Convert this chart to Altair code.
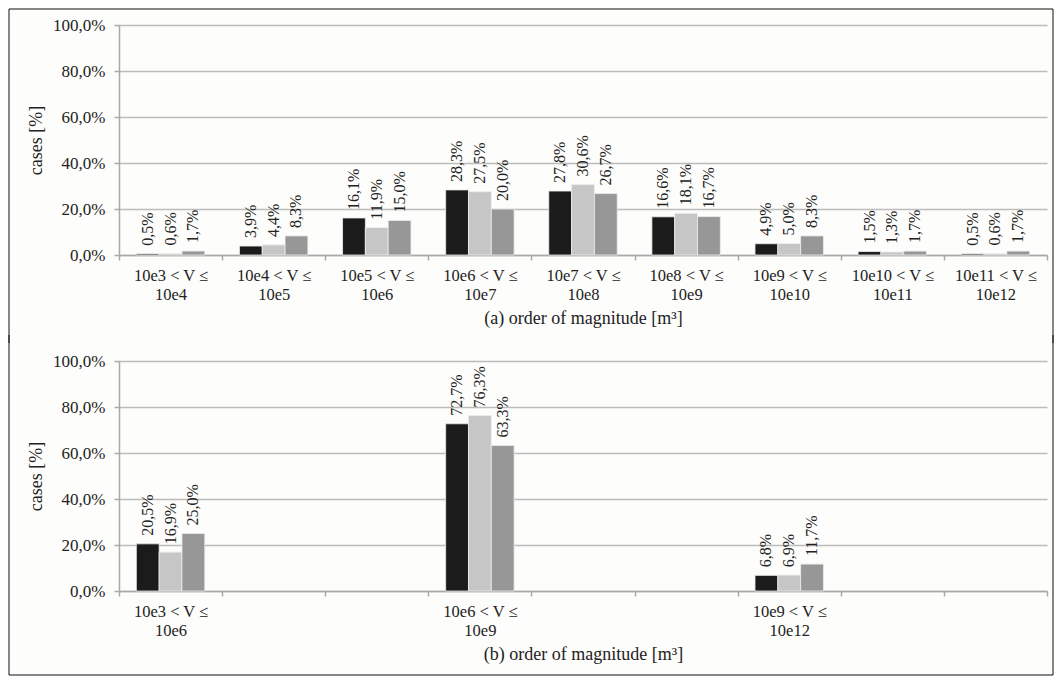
import altair as alt
import pandas as pd

# ---------------- data ----------------
series = ["Series 1", "Series 2", "Series 3"]
series_colors = ["#1b1b1b", "#c6c6c6", "#979797"]

top_categories = [
    "10e3 < V ≤|10e4", "10e4 < V ≤|10e5", "10e5 < V ≤|10e6",
    "10e6 < V ≤|10e7", "10e7 < V ≤|10e8", "10e8 < V ≤|10e9",
    "10e9 < V ≤|10e10", "10e10 < V ≤|10e11", "10e11 < V ≤|10e12",
]
top_s1 = [0.5, 3.9, 16.1, 28.3, 27.8, 16.6, 4.9, 1.5, 0.5]
top_s2 = [0.6, 4.4, 11.9, 27.5, 30.6, 18.1, 5.0, 1.3, 0.6]
top_s3 = [1.7, 8.3, 15.0, 20.0, 26.7, 16.7, 8.3, 1.7, 1.7]

bottom_slots = [
    "10e3 < V ≤|10e6", "slot-1", "slot-2",
    "10e6 < V ≤|10e9", "slot-4", "slot-5",
    "10e9 < V ≤|10e12", "slot-7", "slot-8",
]
bottom_categories = ["10e3 < V ≤|10e6", "10e6 < V ≤|10e9", "10e9 < V ≤|10e12"]
bottom_s1 = [20.5, 72.7, 6.8]
bottom_s2 = [16.9, 76.3, 6.9]
bottom_s3 = [25.0, 63.3, 11.7]

top_title = "(a) order of magnitude [m³]"
bottom_title = "(b) order of magnitude [m³]"
y_title = "cases [%]"


def long_df(cats, s1, s2, s3):
    rows = []
    for vals, s in zip([s1, s2, s3], series):
        for c, v in zip(cats, vals):
            rows.append({"cat": c, "series": s, "v": v})
    return pd.DataFrame(rows)


top_df = long_df(top_categories, top_s1, top_s2, top_s3)
bottom_df = long_df(bottom_categories, bottom_s1, bottom_s2, bottom_s3)

W = 928
H = 230
FONT = "'Liberation Serif', 'Times New Roman', Times, serif"
TXT = "#222222"
AX = "#a9a9a9"


def panel(df, domain, xtitle, label_expr, bottom_extent, top_extent, is_bottom):
    base = alt.Chart(df).transform_calculate(
        lab="replace(format(datum.v, '.1f'), '.', ',') + '%'"
    )
    x = alt.X(
        "cat:N",
        scale=alt.Scale(domain=domain, paddingInner=0, paddingOuter=0),
        axis=alt.Axis(
            title=xtitle,
            labelAngle=0,
            labelExpr=label_expr,
            tickBand="extent",
            tickSize=5,
            tickColor=AX, tickWidth=1.5,
            domainColor=AX, domainWidth=1.5,
            labelPadding=7,
            titlePadding=7,
            labelFont=FONT, labelFontSize=16.5, labelColor=TXT,
            labelLineHeight=19,
            titleFont=FONT, titleFontSize=18, titleColor=TXT,
            titleFontWeight="normal",
            grid=False,
        ),
    )
    xo = alt.XOffset(
        "series:N",
        sort=series,
        scale=alt.Scale(paddingInner=0, paddingOuter=0.76),
    )
    y = alt.Y(
        "v:Q",
        scale=alt.Scale(domain=[0, 100], nice=False),
        axis=alt.Axis(
            title=y_title,
            values=[0, 20, 40, 60, 80, 100],
            labelExpr="replace(format(datum.value, '.1f'), '.', ',') + '%'",
            tickSize=5,
            tickColor=AX, tickWidth=1.5,
            domainColor=AX, domainWidth=1.5,
            gridColor="#bcbcbc", gridWidth=1.5,
            labelPadding=9,
            titlePadding=7,
            labelFont=FONT, labelFontSize=17, labelColor=TXT,
            titleFont=FONT, titleFontSize=18, titleColor=TXT,
            titleFontWeight="normal",
        ),
    )
    bars = base.mark_bar(stroke="#eeeeee", strokeWidth=0.8).encode(
        x=x,
        xOffset=xo,
        y=y,
        color=alt.Color(
            "series:N",
            scale=alt.Scale(domain=series, range=series_colors),
            legend=None,
        ),
    )
    labels = base.mark_text(
        angle=270, align="left", baseline="middle", dx=8,
        font=FONT, fontSize=16, color=TXT,
    ).encode(x=x, xOffset=xo, y=y, text="lab:N")

    one = alt.Chart(pd.DataFrame({"k": [0]}))
    frame_style = dict(color="#111111", strokeWidth=1)
    layers = [bars, labels]
    layers.append(one.mark_rule(**frame_style).encode(
        x=alt.value(-110), y=alt.value(-top_extent), y2=alt.value(H + bottom_extent)))
    layers.append(one.mark_rule(**frame_style).encode(
        x=alt.value(W + 6), y=alt.value(-top_extent), y2=alt.value(H + bottom_extent)))
    if is_bottom:
        layers.append(one.mark_rule(**frame_style).encode(
            x=alt.value(-110), x2=alt.value(W + 6), y=alt.value(H + bottom_extent)))
    else:
        layers.append(one.mark_rule(**frame_style).encode(
            x=alt.value(-110), x2=alt.value(W + 6), y=alt.value(-top_extent)))
    return alt.layer(*layers).properties(width=W, height=H)


top = panel(top_df, top_categories, top_title,
            "split(datum.label, '|')", 88, 16, False)
bottom = panel(bottom_df, bottom_slots, bottom_title,
               "indexof(datum.label, '<') >= 0 ? split(datum.label, '|') : ''",
               84, 26, True)

chart = (
    alt.vconcat(top, bottom, spacing=-10)
    .properties(padding=0, background="#fdfdfb")
    .configure(font=FONT)
    .configure_view(stroke="transparent")
)

chart.save("out.html", embed_options={"renderer": "svg", "actions": False})
